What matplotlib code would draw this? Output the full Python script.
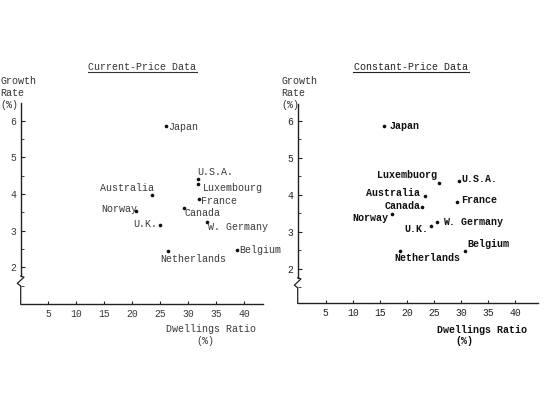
import matplotlib
matplotlib.use("Agg")
import matplotlib.pyplot as plt
from matplotlib.lines import Line2D
from matplotlib.ticker import MultipleLocator

# data
countries = ["Japan", "U.S.A.", "Luxembourg", "Australia", "France", "Norway",
             "U.K.", "Canada", "W. Germany", "Belgium", "Netherlands"]

# current-price data: dwellings ratio (%), growth rate (%)
cur_ratio = [26.0, 31.7, 31.7, 23.5, 32.0, 20.6, 25.0, 29.3, 33.4, 38.7, 26.4]
cur_growth = [5.86, 4.41, 4.26, 3.97, 3.86, 3.54, 3.15, 3.61, 3.23, 2.47, 2.45]

# constant-price data (the original spells Luxembourg "Luxembuorg" here)
con_names = ["Japan", "U.S.A.", "Luxembuorg", "Australia", "France", "Norway",
             "U.K.", "Canada", "W. Germany", "Belgium", "Netherlands"]
con_ratio = [15.8, 29.7, 25.95, 23.4, 29.2, 17.2, 24.4, 22.9, 25.6, 30.8, 18.7]
con_growth = [5.86, 4.39, 4.32, 3.98, 3.82, 3.48, 3.17, 3.67, 3.26, 2.49, 2.49]

x_ticks = [5, 10, 15, 20, 25, 30, 35, 40]
y_ticks = [2, 3, 4, 5, 6]

FONT = "Liberation Mono"
W, H = 549, 398

# label placement (pixel offsets from the dot, alignment)
cur_lab = {
    "Japan": (2.3, -1.7, "left"), "U.S.A.": (0, 7.3, "left"),
    "Luxembourg": (5.4, -3.4, "left"), "Australia": (2.3, 7.3, "right"),
    "France": (2, -2.4, "left"), "Norway": (1.2, 1.7, "right"),
    "U.K.": (-3, 0.7, "right"), "Canada": (0.3, -5, "left"),
    "W. Germany": (1, -5, "left"), "Belgium": (2.6, 0, "left"),
    "Netherlands": (-7.6, -8, "left"),
}
con_lab = {
    "Japan": (6, 0, "left"), "Luxembuorg": (-2, 8.3, "right"),
    "U.S.A.": (2.4, 1.7, "left"), "Australia": (-5, 2.4, "right"),
    "Canada": (-2.3, 1.6, "right"), "France": (4.3, 1.7, "left"),
    "Norway": (-3.4, -4, "right"), "U.K.": (-2.4, -3.3, "right"),
    "W. Germany": (6, 0.6, "left"), "Belgium": (2.3, 6.3, "left"),
    "Netherlands": (-5, -7.3, "left"),
}


def px_axes(left, top, right, bottom):
    return [left / W, 1 - bottom / H, (right - left) / W, (bottom - top) / H]


def setup(ax, xlim, ylim, col):
    ax.set_xlim(*xlim)
    ax.set_ylim(*ylim)
    for s in ["top", "right", "left"]:
        ax.spines[s].set_visible(False)
    ax.spines["bottom"].set_linewidth(1.0)
    ax.spines["bottom"].set_color("#222222")
    ax.set_xticks(x_ticks)
    ax.set_yticks(y_ticks)
    ax.yaxis.set_minor_locator(MultipleLocator(0.5))
    ax.tick_params(axis="both", which="both", direction="in", colors="#222222",
                   labelcolor=col, labelsize=7)
    ax.tick_params(axis="y", which="major", length=3, pad=3)
    ax.tick_params(axis="y", which="minor", length=2)
    ax.tick_params(axis="x", which="major", length=2.5, pad=3.5)
    for t in ax.get_xticklabels() + ax.get_yticklabels():
        t.set_fontfamily(FONT)
    # y axis with a break
    tr = ax.get_yaxis_transform()
    ax.plot([0, 0], [1.76, ylim[1]], color="#222222", lw=1.0, transform=tr,
            clip_on=False)
    ax.plot([0, 0.0136, -0.014, 0, 0], [1.76, 1.73, 1.56, 1.49, ylim[0]],
            color="#222222", lw=0.9, transform=tr, clip_on=False)


def draw(ax, names, xs, ys, labs, bold, col):
    ax.plot(xs, ys, "o", ms=1.6, color="#111111", clip_on=False)
    for n, x, y in zip(names, xs, ys):
        dx, dy, ha = labs[n]
        ax.annotate(n, (x, y), xytext=(dx * 0.72, dy * 0.72),
                    textcoords="offset points", ha=ha, va="center",
                    fontsize=7.2, family=FONT, color=col,
                    fontweight="bold" if bold else "normal",
                    annotation_clip=False)


fig = plt.figure(figsize=(W / 100, H / 100), dpi=100)

ax1 = fig.add_axes(px_axes(20.7, 103, 263.3, 304.3))
setup(ax1, (0.1, 43.4), (0.99, 6.48), "#3a3a3a")
draw(ax1, countries, cur_ratio, cur_growth, cur_lab, False, "#3a3a3a")

ax2 = fig.add_axes(px_axes(297.7, 104, 538.3, 303.3))
setup(ax2, (-0.15, 44.3), (1.07, 6.46), "#222222")
draw(ax2, con_names, con_ratio, con_growth, con_lab, True, "#111111")

# titles (underlined)
for cx, x0, x1, title, col in [(142.5, 88, 197, "Current-Price Data", "#333333"),
                               (410.8, 353, 468.5, "Constant-Price Data", "#222222")]:
    fig.text(cx / W, 1 - 66.7 / H, title, ha="center", va="center",
             fontsize=7.2, family=FONT, color=col)
    fig.add_artist(Line2D([x0 / W, x1 / W], [1 - 72 / H, 1 - 72 / H],
                          color=col, lw=0.8))

# y axis titles
for x0, col in [(0.5, "#333333"), (281.7, "#333333")]:
    for txt, y in [("Growth", 81), ("Rate", 93.3), ("(%)", 105.5)]:
        fig.text(x0 / W, 1 - y / H, txt, ha="left", va="center",
                 fontsize=7.2, family=FONT, color=col)

# x axis titles
fig.text(211.3 / W, 1 - 329.3 / H, "Dwellings Ratio", ha="center", va="center",
         fontsize=7.2, family=FONT, color="#3a3a3a")
fig.text(205 / W, 1 - 341 / H, "(%)", ha="center", va="center",
         fontsize=7.2, family=FONT, color="#3a3a3a")
fig.text(482 / W, 1 - 329.7 / H, "Dwellings Ratio", ha="center", va="center",
         fontsize=7.2, family=FONT, color="#111111", fontweight="bold")
fig.text(464.7 / W, 1 - 341 / H, "(%)", ha="center", va="center",
         fontsize=7.2, family=FONT, color="#111111", fontweight="bold")

fig.savefig("out.png", dpi=100, facecolor="white")
